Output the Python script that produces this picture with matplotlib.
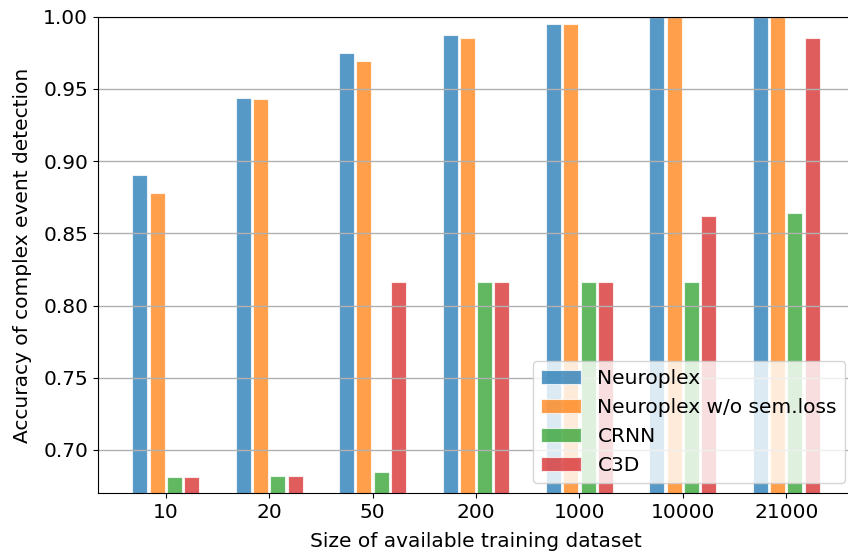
import numpy as np
from matplotlib import pyplot as plt

# dataset sizes on the x axis
sizes = ['10', '20', '50', '200', '1000', '10000', '21000']

# accuracy of each model
neuroplex = [0.8905, 0.944, 0.975, 0.987, 0.995, 1.0, 1.0]
neuroplex_nosem = [0.878, 0.943, 0.969, 0.985, 0.995, 1.0, 1.0]
crnn = [0.681, 0.682, 0.685, 0.816, 0.816, 0.816, 0.864]
c3d = [0.681, 0.682, 0.816, 0.816, 0.816, 0.862, 0.985]

labels = ['Neuroplex', 'Neuroplex w/o sem.loss', 'CRNN', 'C3D']
series = [neuroplex, neuroplex_nosem, crnn, c3d]
colors = ['tab:blue', 'tab:orange', 'tab:green', 'tab:red']

fig = plt.figure(figsize=(8.48, 5.57), dpi=100)
# axes runs a little past the right edge like the original picture
ax = fig.add_axes([0.1156, 0.1144, 0.8915, 0.8556])

x = np.arange(len(sizes))
step = 0.167
for i, (vals, lab, c) in enumerate(zip(series, labels, colors)):
    ax.bar(x + (i - 1.5) * step, vals, width=0.145, color=c, alpha=0.75,
           edgecolor='white', linewidth=0.8, label=lab)

ax.set_ylim(0.67, 1.0)
ax.set_xticks(x)
ax.set_xticklabels(sizes)
ax.tick_params(labelsize=14.5)
ax.yaxis.grid(True, color='#b0b0b0', linewidth=1)
ax.set_xlabel('Size of available training dataset', fontsize=14.5, labelpad=7)
ax.set_ylabel('Accuracy of complex event detection', fontsize=14.5, labelpad=8)
ax.legend(loc='lower right', bbox_to_anchor=(0.988, 0.021), borderaxespad=0,
          fontsize=14.5)

plt.savefig('out.png')
